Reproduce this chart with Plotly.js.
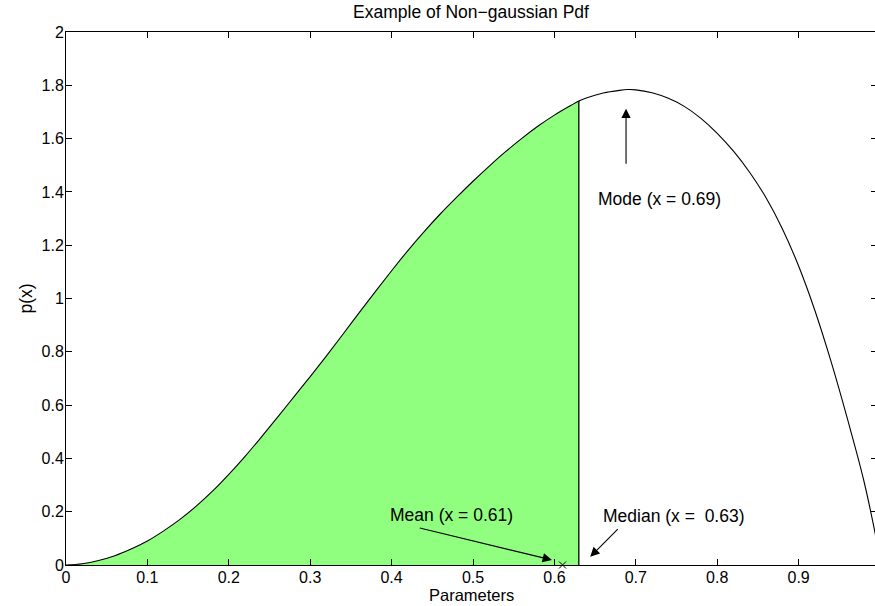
<!DOCTYPE html>
<html><head><meta charset="utf-8">
<script src="https://cdn.plot.ly/plotly-3.0.1.min.js"></script>
<style>html,body{margin:0;padding:0;overflow:hidden;background:#fff}</style>
</head><body><div id="chart"></div>
<script>
// Curve
const xs = [0,0.02,0.04,0.06,0.08,0.1,0.12,0.14,0.16,0.18,0.2,0.22,0.24,0.26,0.28,0.3,0.32,0.34,0.36,0.38,0.4,0.42,0.44,0.46,0.48,0.5,0.52,0.54,0.56,0.58,0.6,0.62,0.63,0.64,0.66,0.68,0.69,0.7,0.72,0.74,0.76,0.78,0.8,0.82,0.84,0.86,0.88,0.9,0.92,0.94,0.96,0.98,0.995];
const ys = [0,0.005,0.017,0.035,0.060,0.090,0.128,0.171,0.221,0.277,0.340,0.408,0.480,0.555,0.631,0.707,0.785,0.865,0.946,1.026,1.104,1.180,1.251,1.318,1.380,1.440,1.497,1.551,1.601,1.647,1.688,1.724,1.741,1.753,1.771,1.781,1.784,1.783,1.772,1.751,1.720,1.676,1.620,1.553,1.473,1.378,1.262,1.122,0.955,0.762,0.548,0.318,0.105];
const meanX = 0.61, medianX = 0.63, modeX = 0.69;
const xTicks = [0,0.1,0.2,0.3,0.4,0.5,0.6,0.7,0.8,0.9];
const xTickLabels = ['0','0.1','0.2','0.3','0.4','0.5','0.6','0.7','0.8','0.9'];
const yTicks = [0,0.2,0.4,0.6,0.8,1,1.2,1.4,1.6,1.8,2];
const yTickLabels = ['0','0.2','0.4','0.6','0.8','1','1.2','1.4','1.6','1.8','2'];

const fx = [], fy = [];
for (let i = 0; i < xs.length; i++) { if (xs[i] <= medianX) { fx.push(xs[i]); fy.push(ys[i]); } }
const medY = fy[fy.length - 1];

const fam = '"Liberation Sans", Arial, Helvetica, sans-serif';
const font = {family: fam, size: 17.5, color: '#000'};
const tickFont = {family: fam, size: 16, color: '#000'};
const xTitleFont = {family: fam, size: 16.5, color: '#000'};

const traces = [
  {x: fx, y: fy, type: 'scatter', mode: 'lines', fill: 'tozeroy', fillcolor: '#90FF80', line: {width: 0, color: 'rgba(0,0,0,0)', shape: 'spline', smoothing: 1}, hoverinfo: 'skip'},
  {x: [medianX, medianX], y: [0, medY], type: 'scatter', mode: 'lines', line: {color: '#000', width: 1.3}, hoverinfo: 'skip'},
  {x: xs, y: ys, type: 'scatter', mode: 'lines', line: {color: '#000', width: 1.1, shape: 'spline', smoothing: 1}},
  {x: [meanX], y: [0], type: 'scatter', mode: 'markers', marker: {symbol: 'x-thin', size: 7, line: {color: '#000', width: 1}}, cliponaxis: false}
];

function arrow(tx, ty, ax, ay) {
  return {x: tx, y: ty, ax: ax, ay: ay, xref: 'x', yref: 'y', axref: 'x', ayref: 'y', text: '', showarrow: true, arrowhead: 2, arrowsize: 1.7, arrowwidth: 1.1, arrowcolor: '#000'};
}
function label(t, x, y) {
  return {x: x, y: y, xref: 'x', yref: 'y', text: t, showarrow: false, font: font, xanchor: 'center', yanchor: 'middle'};
}

const layout = {
  width: 877, height: 606,
  margin: {l: 66, r: 0, t: 32, b: 41},
  paper_bgcolor: '#fff', plot_bgcolor: '#fff',
  showlegend: false,
  font: font,
  title: {text: 'Example of Non\u2212gaussian Pdf', font: font, x: 471/877, xref: 'container', xanchor: 'center', y: 1 - 12/606, yref: 'container', yanchor: 'middle'},
  xaxis: {range: [0, 0.9963], tickvals: xTicks, ticktext: xTickLabels, ticks: 'inside', ticklen: 6, tickcolor: '#000', tickwidth: 1,
          showline: true, linecolor: '#000', linewidth: 1, mirror: 'ticks', showgrid: false, zeroline: false, tickfont: tickFont, ticklabelstandoff: -2},
  yaxis: {range: [0, 2], tickvals: yTicks, ticktext: yTickLabels, ticks: 'inside', ticklen: 6, tickcolor: '#000', tickwidth: 1,
          showline: true, linecolor: '#000', linewidth: 1, mirror: 'ticks', showgrid: false, zeroline: false, tickfont: tickFont, ticklabelstandoff: -2,
          title: {text: 'p(x)', font: font, standoff: 4}},
  annotations: [
    {text: 'Parameters', xref: 'paper', yref: 'paper', x: (471 - 66) / 811, y: (565 - 606) / 533, xanchor: 'center', yanchor: 'bottom', showarrow: false, font: xTitleFont},
    label('Mean (x = 0.61)', 0.4733, 0.1875),
    arrow(0.597, 0.019, 0.4328, 0.140),
    label('Median (x =  0.63)', 0.747, 0.184),
    arrow(0.644, 0.031, 0.6797, 0.140),
    label('Mode (x = 0.69)', 0.7295, 1.375),
    arrow(0.688, 1.712, 0.688, 1.50)
  ]
};
Plotly.newPlot('chart', traces, layout, {displayModeBar: false, staticPlot: true});
</script></body></html>
